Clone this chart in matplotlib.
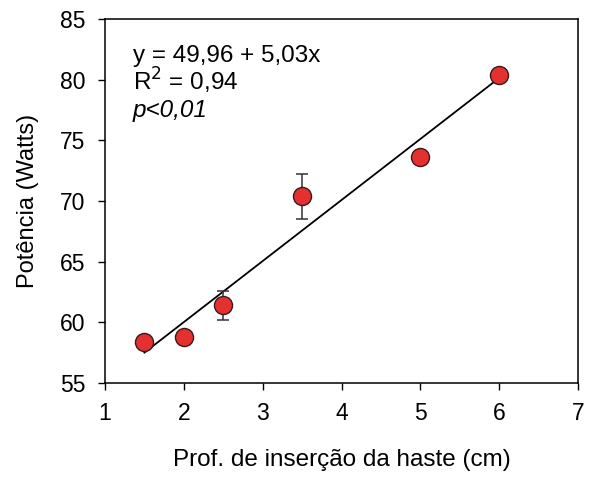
import numpy as np
import matplotlib
matplotlib.use("Agg")
import matplotlib.pyplot as plt

plt.rcParams["font.family"] = ["Liberation Sans", "DejaVu Sans"]

# Profundidade de insercao da haste (cm) vs potencia (W)
prof = [1.5, 2.0, 2.5, 3.5, 5.0, 6.0]
potencia = [58.4, 58.8, 61.4, 70.4, 73.6, 80.4]
erro = [0.0, 0.0, 1.2, 1.85, 0.0, 0.0]

# regression y = a + b x
a, b = 49.96, 5.03
x_fit = [1.5, 6.0]

fig = plt.figure(figsize=(5.9, 4.8), dpi=100)
ax = fig.add_axes([105 / 590, 1 - 383 / 480, 473 / 590, 364 / 480])

xf = np.array(x_fit)
ax.plot(xf, a + b * xf, color="black", lw=1.3, zorder=2)
ax.errorbar(prof, potencia, yerr=erro, fmt="none", ecolor="#333333",
            elinewidth=1.1, capsize=4, capthick=1.1, zorder=3)
ax.plot(prof, potencia, "o", ms=13, mfc="#e53030", mec="#3a1a1a",
        mew=1.0, zorder=4)

ax.set_xlim(1, 7)
ax.set_ylim(55, 85)
ax.set_xticks(range(1, 8))
ax.set_yticks(range(55, 86, 5))
ax.tick_params(direction="out", length=5, labelsize=16.5, width=1, pad=9)
for s in ax.spines.values():
    s.set_linewidth(1.1)

ax.set_xlabel("Prof. de inserção da haste (cm)", fontsize=17.5, labelpad=17)
ax.set_ylabel("Potência (Watts)", fontsize=17, labelpad=15)

tx = 0.059
ax.text(tx, 0.882, "y = 49,96 + 5,03x", transform=ax.transAxes,
        fontsize=17.5, va="baseline")
ax.text(tx, 0.802, "R$^2$ = 0,94", transform=ax.transAxes,
        fontsize=17.5, va="baseline")
ax.text(tx, 0.731, "p<0,01", transform=ax.transAxes,
        fontsize=17.5, va="baseline", style="italic")

fig.savefig("out.png", dpi=100)
